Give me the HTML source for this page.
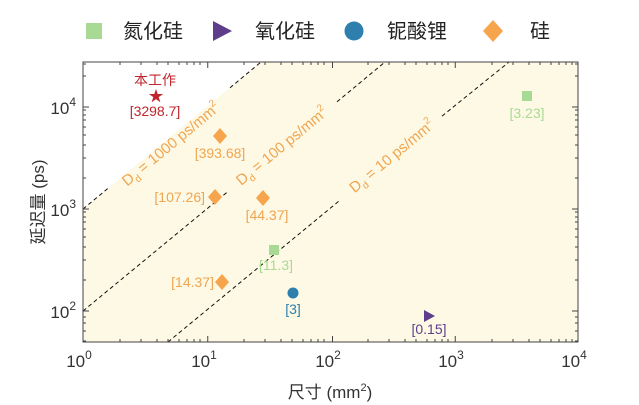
<!DOCTYPE html>
<html><head><meta charset="utf-8"><style>
html,body{margin:0;padding:0;background:#fff;}
svg{display:block;font-family:"Liberation Sans","Noto Sans CJK SC",sans-serif;}
</style></head><body>
<svg width="639" height="405" viewBox="0 0 639 405" xmlns="http://www.w3.org/2000/svg">
<rect x="83" y="62" width="495" height="280" fill="#fdf9e4"/>
<polygon points="83,62 261,62 83,209" fill="#ffffff"/>
<g stroke="#111" stroke-width="1" stroke-dasharray="4,3" fill="none">
<line x1="83" y1="209" x2="110" y2="186.7"/>
<line x1="230" y1="87.8" x2="261" y2="62"/>
<line x1="83" y1="311" x2="227" y2="192.3"/>
<line x1="337" y1="101.8" x2="385" y2="62"/>
<line x1="168" y1="342" x2="340" y2="200.2"/>
<line x1="442" y1="116.1" x2="509" y2="62"/>
</g>
<g fill="#f0a550" font-size="15">
<text transform="translate(174,148) rotate(-39.5)" text-anchor="middle">D<tspan font-size="10" dy="4">d</tspan><tspan dy="-4"> = 1000 ps/mm</tspan><tspan font-size="10" dy="-7">2</tspan></text>
<text transform="translate(285,150) rotate(-39.5)" text-anchor="middle">D<tspan font-size="10" dy="4">d</tspan><tspan dy="-4"> = 100 ps/mm</tspan><tspan font-size="10" dy="-7">2</tspan></text>
<text transform="translate(395,160) rotate(-39.5)" text-anchor="middle">D<tspan font-size="10" dy="4">d</tspan><tspan dy="-4"> = 10 ps/mm</tspan><tspan font-size="10" dy="-7">2</tspan></text>
</g>
<rect x="83" y="62" width="495" height="280" fill="none" stroke="#444" stroke-width="1"/>
<g stroke="#444" stroke-width="1">
<path d="M207.75,342v-6M332.5,342v-6M455.25,342v-6M207.75,62v6M332.5,62v6M455.25,62v6"/>
<path d="M83,107h6M83,209h6M83,311h6M578,107h-6M578,209h-6M578,311h-6"/>
<path d="M120,342v-3M141,342v-3M157,342v-3M168,342v-3M179,342v-3M187,342v-3M194,342v-3M200,342v-3M244,342v-3M265,342v-3M281,342v-3M292,342v-3M303,342v-3M311,342v-3M318,342v-3M324,342v-3M368,342v-3M389,342v-3M405,342v-3M416,342v-3M427,342v-3M435,342v-3M442,342v-3M448,342v-3M492,342v-3M513,342v-3M529,342v-3M540,342v-3M551,342v-3M559,342v-3M566,342v-3M572,342v-3"/>
<path d="M120,62v3M141,62v3M157,62v3M168,62v3M179,62v3M187,62v3M194,62v3M200,62v3M244,62v3M265,62v3M281,62v3M292,62v3M303,62v3M311,62v3M318,62v3M324,62v3M368,62v3M389,62v3M405,62v3M416,62v3M427,62v3M435,62v3M442,62v3M448,62v3M492,62v3M513,62v3M529,62v3M540,62v3M551,62v3M559,62v3M566,62v3M572,62v3"/>
<path d="M83,341h3M83,331h3M83,323h3M83,317h3M83,280h3M83,260h3M83,247h3M83,237h3M83,229h3M83,222h3M83,217h3M83,212h3M83,178h3M83,158h3M83,145h3M83,135h3M83,127h3M83,120h3M83,115h3M83,110h3M83,76h3M83,64h3"/>
<path d="M578,341h-3M578,331h-3M578,323h-3M578,317h-3M578,280h-3M578,260h-3M578,247h-3M578,237h-3M578,229h-3M578,222h-3M578,217h-3M578,212h-3M578,178h-3M578,158h-3M578,145h-3M578,135h-3M578,127h-3M578,120h-3M578,115h-3M578,110h-3M578,76h-3M578,64h-3"/>
</g>
<g font-size="17" fill="#333" text-anchor="middle">
<text x="79" y="367">10<tspan font-size="12" dy="-8">0</tspan></text>
<text x="204" y="367">10<tspan font-size="12" dy="-8">1</tspan></text>
<text x="328" y="367">10<tspan font-size="12" dy="-8">2</tspan></text>
<text x="451" y="367">10<tspan font-size="12" dy="-8">3</tspan></text>
<text x="574" y="367">10<tspan font-size="12" dy="-8">4</tspan></text>
</g>
<g font-size="17" fill="#333" text-anchor="end">
<text x="76" y="114">10<tspan font-size="12" dy="-8">4</tspan></text>
<text x="76" y="216">10<tspan font-size="12" dy="-8">3</tspan></text>
<text x="76" y="318">10<tspan font-size="12" dy="-8">2</tspan></text>
</g>
<text x="330" y="398" font-size="17" fill="#333" text-anchor="middle">尺寸 (mm<tspan font-size="11" dy="-7">2</tspan><tspan dy="7">)</tspan></text>
<text transform="translate(44,202) rotate(-90)" font-size="17" fill="#333" text-anchor="middle">延迟量 (ps)</text>
<text x="156" y="101" font-size="15" fill="#c0262d" text-anchor="middle">★</text>
<text x="155" y="85" font-size="14" fill="#c0262d" text-anchor="middle">本工作</text>
<text x="155" y="116" font-size="14" fill="#c0262d" text-anchor="middle">[3298.7]</text>
<g fill="#f7a54c">
<polygon points="220,128 227,136 220,144 213,136"/>
<polygon points="215,189 222,197 215,205 208,197"/>
<polygon points="263,190 270,198 263,206 256,198"/>
<polygon points="222,274 229,282 222,290 215,282"/>
</g>
<g fill="#f0a550" font-size="14">
<text x="220" y="158" text-anchor="middle">[393.68]</text>
<text x="205" y="202" text-anchor="end">[107.26]</text>
<text x="267" y="220" text-anchor="middle">[44.37]</text>
<text x="214" y="287" text-anchor="end">[14.37]</text>
</g>
<rect x="269" y="245" width="10" height="10" fill="#a9da95"/>
<rect x="522" y="91" width="10" height="10" fill="#a9da95"/>
<g fill="#a9da95" font-size="14" text-anchor="middle">
<text x="276" y="270">[11.3]</text>
<text x="527" y="118">[3.23]</text>
</g>
<circle cx="293" cy="293" r="5.5" fill="#2e7fae"/>
<text x="293" y="314" font-size="14" fill="#2e7fae" text-anchor="middle">[3]</text>
<polygon points="424,310 435,316 424,322" fill="#5e3e8c"/>
<text x="429" y="334" font-size="14" fill="#5e3e8c" text-anchor="middle">[0.15]</text>
<rect x="86" y="23" width="16" height="16" fill="#a9da95"/>
<text x="123" y="38" font-size="20" fill="#222">氮化硅</text>
<polygon points="213,21 232,31 213,41" fill="#5e3e8c"/>
<text x="255" y="38" font-size="20" fill="#222">氧化硅</text>
<circle cx="354" cy="31" r="9.5" fill="#2e7fae"/>
<text x="387" y="38" font-size="20" fill="#222">铌酸锂</text>
<polygon points="493,20 503,31 493,42 483,31" fill="#f7a54c"/>
<text x="530" y="38" font-size="20" fill="#222">硅</text>
</svg>
</body></html>
